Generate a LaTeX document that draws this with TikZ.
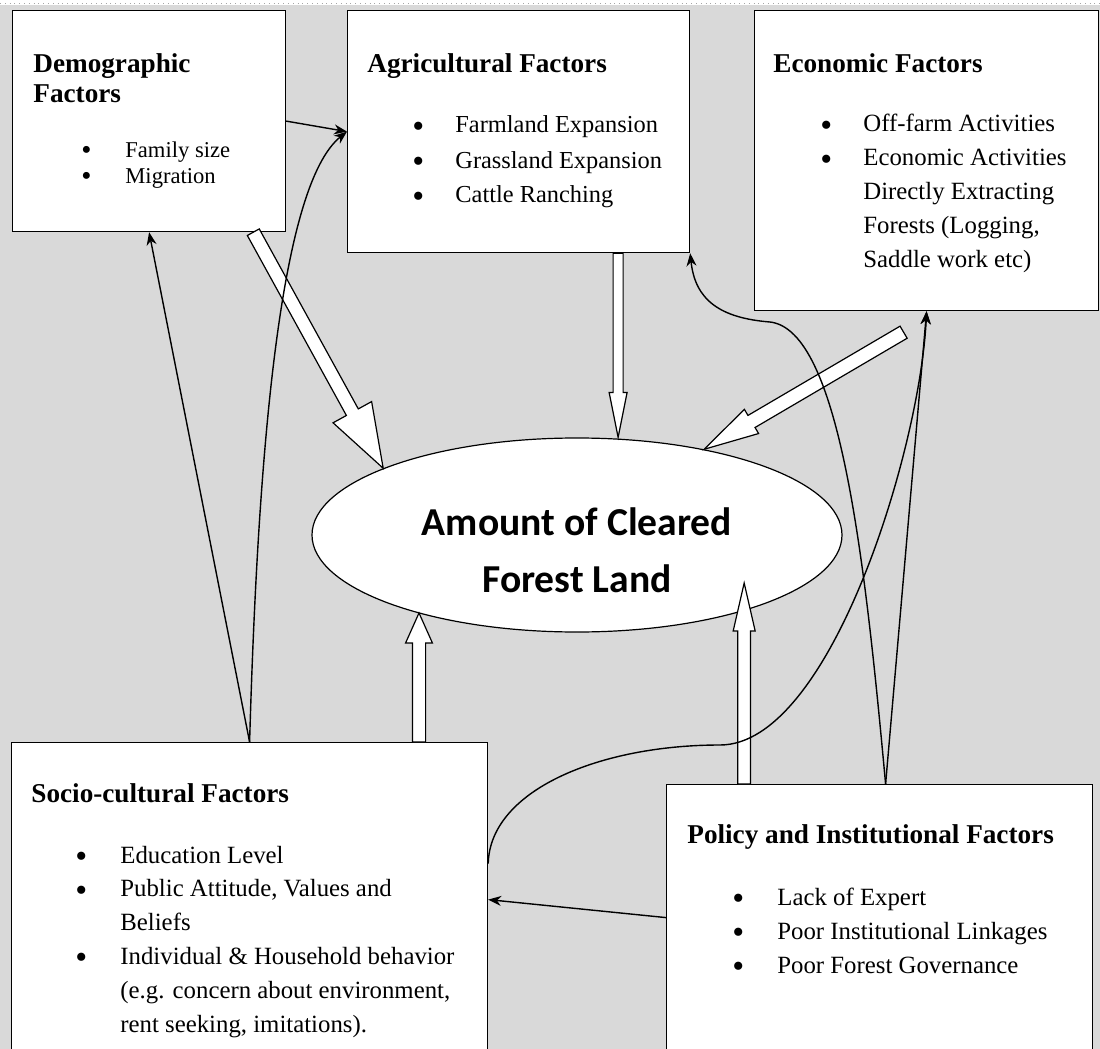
\documentclass[tikz,border=0pt]{standalone}
\usepackage{fontspec}
\setmainfont{Liberation Serif}
\newfontfamily\calibrifont{Carlito}
\usepackage{tikz}
\usetikzlibrary{calc}
\usetikzlibrary{positioning}
\usetikzlibrary{shapes.geometric}
\usetikzlibrary{arrows.meta}
\definecolor{paper}{RGB}{217, 217, 217}
\newcommand{\itemdot}{\smash{\raisebox{-2.2pt}{\fontsize{17}{17}\selectfont\textbullet}}}
\newcommand{\smalldot}{\smash{\raisebox{-1.4pt}{\fontsize{14.5}{14.5}\selectfont\textbullet}}}
\tikzset{
factor/.style 2 args={draw, fill=white, line width=0.6pt, anchor=north west,
	inner sep=0pt, minimum width=#1, minimum height=#2},
heading/.style={anchor=base west, inner sep=0pt,
	font=\bfseries\fontsize{13.6}{15}\selectfont},
items/.style={anchor=base west, inner sep=0pt,
	font=\fontsize{12.4}{17}\selectfont},
hollow/.style={draw, fill=white, line width=0.6pt, line join=miter},
link/.style={->, >={Stealth[length=6.5pt,width=5pt]}, line width=0.7pt},
}
% tail, tip, shaft half width, head half width, head length
\newcommand{\hollowarrow}[5]{%
	\coordinate (hb) at ($(#2)!#5!(#1)$);
	\draw[hollow] ($(#1)!#3!90:(#2)$) -- ($(hb)!#3!90:(#2)$) -- ($(hb)!#4!90:(#2)$) -- (#2)
		-- ($(hb)!#4!-90:(#2)$) -- ($(hb)!#3!-90:(#2)$) -- ($(#1)!#3!-90:(#2)$) -- cycle;
}

\begin{document}
\begin{tikzpicture}[x=0.5pt, y=-0.5pt]
\tikzstyle{bigtext}=[anchor=base, inner sep=0pt, font=\calibrifont\bfseries\fontsize{19.8}{28.5}\selectfont]
\useasboundingbox (0,0) rectangle (1100,1049);
\fill[paper] (0,5) rectangle (1100,1049);
\draw[black!35, dotted] (0,3) -- (1100,3);

%Place the boxes
\node[factor={136.5pt}{110.5pt}] (demo) at (12,10) {};
\node[factor={171pt}{121pt}] (agri) at (347,10) {};
\node[factor={172pt}{150pt}] (econ) at (754,10) {};
\node[factor={238pt}{157pt}] (socio) at (11,742) {};
\node[factor={213pt}{133pt}] (policy) at (666,784) {};

\node[draw, ellipse, fill=white, line width=0.6pt, minimum width=265pt,
	minimum height=97pt, inner sep=0pt] (clear) at (577,535) {};

%
\coordinate (detail) at ($(demo.south west)!0.88!(demo.south east)$);
\coordinate (agtail) at ($(agri.south west)!0.79!(agri.south east)$);
\coordinate (agtip) at (agtail |- clear.north);
\coordinate (ectail) at ($(econ.south)+(-23,21)$);
\coordinate (sotail) at ($(socio.north west)!0.855!(socio.north east)$);
\coordinate (sotip) at (sotail |- clear.206);
\coordinate (potail) at ($(policy.north west)!0.183!(policy.north east)$);
\coordinate (potip) at ($(potail |- clear.center)+(0,48)$);

\hollowarrow{detail}{clear.161}{3.4pt}{11pt}{32pt}
\hollowarrow{agtail}{agtip}{2.5pt}{4.5pt}{22.5pt}
\hollowarrow{ectail}{clear.34}{3.5pt}{7pt}{27.5pt}
\hollowarrow{sotail}{sotip}{3.3pt}{6.7pt}{15pt}
\hollowarrow{potail}{potip}{3.2pt}{5.5pt}{24pt}

%
\draw[link] (demo.east) -- (agri.west);
\draw[link] (socio.north) -- (demo.south);
\draw[link] (socio.north) .. controls (258,450) and (280,185) .. (agri.west);
\draw[link] (policy.west) -- (socio.east);

\coordinate (sostart) at ($(socio.east)+(0,-36)$);
\coordinate (bend2) at (720,745);
\draw[link] (sostart) .. controls (490,790) and (600,745) .. (bend2)
	.. controls (830,745) and (920,450) .. (econ.south);

\coordinate (pofork) at ($(policy.north)+(6,0)$);
\coordinate (bend1) at (770,322);
\draw[link] (pofork) -- (econ.south);
\draw[link] (pofork) .. controls (865,560) and (840,330) .. (bend1)
	.. controls (720,318) and (695,300) .. (agri.south east);

%Texts
\node[bigtext] (cleartext) at (577,535)
	{\begin{tabular}[t]{@{}c@{}}Amount of Cleared\\Forest Land\end{tabular}};

\node[heading] (demohead) at (33,72) {\begin{tabular}[t]{@{}l@{}}Demographic\\Factors\end{tabular}};
\node[items, font=\fontsize{11.3}{13}\selectfont] (demolist) at (81,157)
	{\begin{tabular}[t]{@{}p{22pt}@{}l@{}}\smalldot & Family size\\ \smalldot & Migration\end{tabular}};

\node[heading] (agrihead) at (367,72) {Agricultural Factors};
\node[items, font=\fontsize{12.2}{17.5}\selectfont] (agrilist) at (412,133)
	{\begin{tabular}[t]{@{}p{21.5pt}@{}l@{}}\itemdot & Farmland Expansion\\ \itemdot & Grassland Expansion\\
	\itemdot & Cattle Ranching\end{tabular}};

\node[heading] (econhead) at (773,72) {Economic Factors};
\node[items, font=\fontsize{12.4}{16.9}\selectfont] (econlist) at (820,132)
	{\begin{tabular}[t]{@{}p{21.5pt}@{}l@{}}\itemdot & Off-farm Activities\\ \itemdot & Economic Activities\\
	& Directly Extracting\\ & Forests (Logging,\\ & Saddle work etc)\end{tabular}};

\node[heading] (sociohead) at (31,802) {Socio-cultural Factors};
\node[items, font=\fontsize{12.4}{16.9}\selectfont] (sociolist) at (75,863)
	{\begin{tabular}[t]{@{}p{22.5pt}@{}l@{}}\itemdot & Education Level\\ \itemdot & Public Attitude, Values and\\
	& Beliefs\\ \itemdot & Individual \& Household behavior\\ & (e.g. concern about environment,\\
	& rent seeking, imitations).\end{tabular}};

\node[heading] (polhead) at (687,843) {Policy and Institutional Factors};
\node[items] (pollist) at (732,905)
	{\begin{tabular}[t]{@{}p{22.5pt}@{}l@{}}\itemdot & Lack of Expert\\ \itemdot & Poor Institutional Linkages\\
	\itemdot & Poor Forest Governance\end{tabular}};

\end{tikzpicture}
\end{document}
